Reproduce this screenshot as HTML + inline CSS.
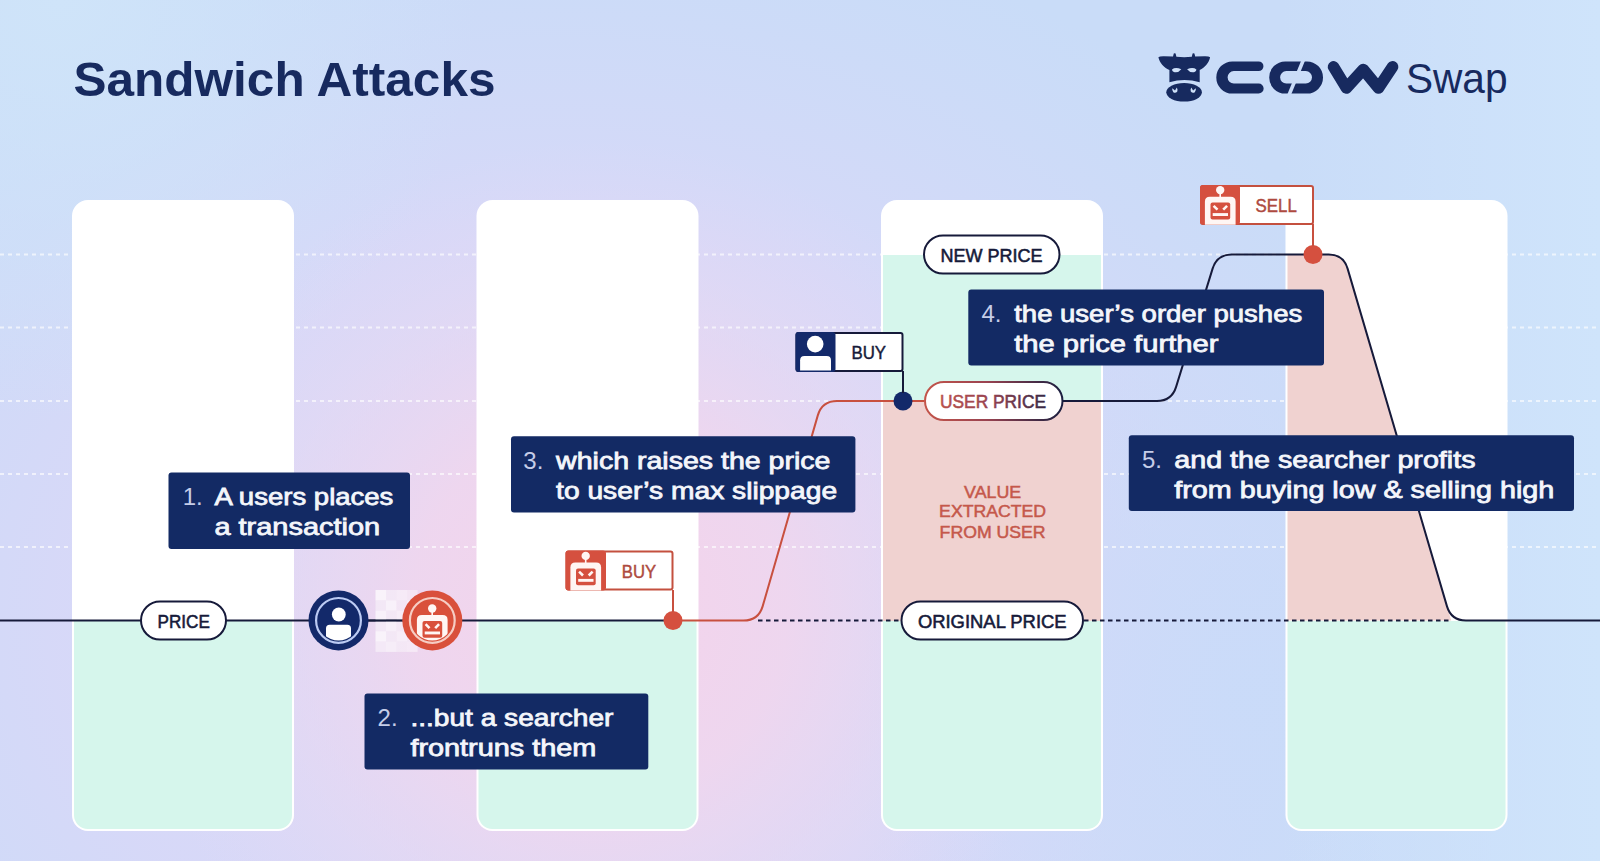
<!DOCTYPE html>
<html>
<head>
<meta charset="utf-8">
<style>
html,body{margin:0;padding:0;width:1600px;height:861px;overflow:hidden;}
body{position:relative;font-family:"Liberation Sans",sans-serif;
background:#cfe0f9;}
svg{position:absolute;left:0;top:0;display:block;}
</style>
</head>
<body>
<svg width="1600" height="861" viewBox="0 0 1600 861" font-family="Liberation Sans, sans-serif">
<defs>
  <radialGradient id="bgLav" cx="560" cy="620" r="760" gradientUnits="userSpaceOnUse" gradientTransform="translate(560 620) scale(1.2 0.95) translate(-560 -620)">
    <stop offset="0" stop-color="#e0d9f6" stop-opacity="1"/>
    <stop offset="0.55" stop-color="#d8d8f8" stop-opacity="0.9"/>
    <stop offset="1" stop-color="#d4d9f8" stop-opacity="0"/>
  </radialGradient>
  <radialGradient id="bgTL" cx="60" cy="0" r="420" gradientUnits="userSpaceOnUse">
    <stop offset="0" stop-color="#cfe4f9" stop-opacity="1"/>
    <stop offset="1" stop-color="#cfe4f9" stop-opacity="0"/>
  </radialGradient>
  <radialGradient id="bgPink" cx="600" cy="610" r="470" gradientUnits="userSpaceOnUse">
    <stop offset="0" stop-color="#f5d3ea" stop-opacity="1"/>
    <stop offset="0.4" stop-color="#f0d6ee" stop-opacity="0.9"/>
    <stop offset="1" stop-color="#e2daf5" stop-opacity="0"/>
  </radialGradient>
  <radialGradient id="bgR" cx="1250" cy="700" r="420" gradientUnits="userSpaceOnUse">
    <stop offset="0" stop-color="#c9dbf9" stop-opacity="0.9"/>
    <stop offset="1" stop-color="#c9dbf9" stop-opacity="0"/>
  </radialGradient>
  <linearGradient id="bgRE" x1="1280" y1="0" x2="1600" y2="0" gradientUnits="userSpaceOnUse">
    <stop offset="0" stop-color="#cfe4fb" stop-opacity="0"/>
    <stop offset="1" stop-color="#cfe4fb" stop-opacity="1"/>
  </linearGradient>
  <linearGradient id="userPriceGrad" x1="924" y1="0" x2="1063" y2="0" gradientUnits="userSpaceOnUse">
    <stop offset="0" stop-color="#c4554a"/>
    <stop offset="0.45" stop-color="#9a4350"/>
    <stop offset="1" stop-color="#1a1f40"/>
  </linearGradient>
  <clipPath id="c1"><rect x="74" y="202" width="218" height="627" rx="14"/></clipPath>
  <clipPath id="c2"><rect x="478.5" y="202" width="218" height="627" rx="14"/></clipPath>
  <clipPath id="c3"><rect x="883" y="202" width="218" height="627" rx="14"/></clipPath>
  <clipPath id="c4"><rect x="1287.5" y="202" width="218" height="627" rx="14"/></clipPath>
  <clipPath id="tagR1"><rect x="565.5" y="550.5" width="40" height="40"/></clipPath>
</defs>

<!-- background -->
<rect x="0" y="0" width="1600" height="861" fill="#c9dcf8"/>
<rect x="0" y="0" width="1600" height="861" fill="url(#bgLav)"/>
<rect x="0" y="0" width="1600" height="861" fill="url(#bgTL)"/>
<rect x="0" y="0" width="1600" height="861" fill="url(#bgR)"/>
<rect x="0" y="0" width="1600" height="861" fill="url(#bgRE)"/>
<rect x="0" y="0" width="1600" height="861" fill="url(#bgPink)"/>

<!-- dashed grid lines -->
<g stroke="#ffffff" stroke-width="2" stroke-dasharray="4 4" opacity="0.65">
  <line x1="0" y1="254.5" x2="1600" y2="254.5"/>
  <line x1="0" y1="327.5" x2="1600" y2="327.5"/>
  <line x1="0" y1="401" x2="1600" y2="401"/>
  <line x1="0" y1="474" x2="1600" y2="474"/>
  <line x1="0" y1="547" x2="1600" y2="547"/>
</g>

<!-- columns -->
<g fill="#ffffff">
  <rect x="72" y="200" width="222" height="631" rx="16"/>
  <rect x="476.5" y="200" width="222" height="631" rx="16"/>
  <rect x="881" y="200" width="222" height="631" rx="16"/>
  <rect x="1285.5" y="200" width="222" height="631" rx="16"/>
</g>
<g fill="#d6f6ec">
  <rect clip-path="url(#c1)" x="72" y="621" width="222" height="220"/>
  <rect clip-path="url(#c2)" x="476.5" y="621" width="222" height="220"/>
  <g clip-path="url(#c3)">
    <rect x="881" y="621" width="222" height="220"/>
    <rect x="881" y="255" width="222" height="146"/>
  </g>
  <rect clip-path="url(#c4)" x="1285.5" y="621" width="222" height="220"/>
</g>
<rect clip-path="url(#c3)" x="881" y="401" width="222" height="220" fill="#f0d2d0"/>
<path clip-path="url(#c4)" d="M1280 254.5 H1328.7 Q1343.4 254.5 1347.6 268.6 L1451.2 620.5 H1280 Z" fill="#f0d2d0"/>

<!-- price line (solid navy) -->
<line x1="0" y1="620.5" x2="673" y2="620.5" stroke="#161a3a" stroke-width="2"/>
<!-- dashed original price -->
<g stroke="#161a3a" stroke-width="2" stroke-dasharray="4.5 3.5">
  <line x1="758" y1="620.5" x2="900" y2="620.5"/>
  <line x1="1084" y1="620.5" x2="1451" y2="620.5"/>
</g>

<!-- red path -->
<path d="M673 620.5 H743.5 Q758.5 620.5 762.7 606.1 L817.8 415.4 Q822 401 837 401 H924" fill="none" stroke="#c8503f" stroke-width="2"/>
<!-- navy path -->
<path d="M1063 401 H1157 Q1171.7 401 1176.1 386.9 L1212.6 268.6 Q1217 254.5 1231.7 254.5 H1328.7 Q1343.4 254.5 1347.6 268.6 L1447 606.4 Q1451.2 620.5 1466 620.5 H1600" fill="none" stroke="#161a3a" stroke-width="2"/>

<!-- pills -->
<g fill="#ffffff" stroke="#161a3a" stroke-width="2">
  <rect x="141" y="601.5" width="85" height="38" rx="19"/>
  <rect x="924" y="235.5" width="135.5" height="38" rx="19"/>
  <rect x="901.5" y="601.5" width="181.5" height="38" rx="19"/>
</g>
<rect x="925" y="382" width="137.5" height="38" rx="19" fill="#ffffff" stroke="url(#userPriceGrad)" stroke-width="2"/>
<g font-size="18" fill="#161a3a" font-weight="normal" stroke="#161a3a" stroke-width="0.55">
  <text x="157.5" y="628" textLength="52.3" lengthAdjust="spacingAndGlyphs">PRICE</text>
  <text x="940.5" y="261.7" textLength="102" lengthAdjust="spacingAndGlyphs">NEW PRICE</text>
  <text x="917.9" y="628.4" textLength="148.7" lengthAdjust="spacingAndGlyphs">ORIGINAL PRICE</text>
  <text x="940" y="408" textLength="106" lengthAdjust="spacingAndGlyphs" fill="url(#userPriceGrad)" stroke="url(#userPriceGrad)">USER PRICE</text>
</g>
<g font-size="17" fill="#c5584b" stroke="#c5584b" stroke-width="0.5" text-anchor="middle">
  <text x="992.6" y="497.5" textLength="57" lengthAdjust="spacingAndGlyphs">VALUE</text>
  <text x="992.6" y="517.4" textLength="107" lengthAdjust="spacingAndGlyphs">EXTRACTED</text>
  <text x="992.6" y="537.7" textLength="106" lengthAdjust="spacingAndGlyphs">FROM USER</text>
</g>

<!-- dots -->
<circle cx="673" cy="620.5" r="9.5" fill="#d5503f"/>
<circle cx="903" cy="401" r="9.5" fill="#13296a"/>
<circle cx="1313" cy="254.5" r="9.5" fill="#d5503f"/>

<!-- tag lines -->
<line x1="673" y1="590" x2="673" y2="612" stroke="#c8503f" stroke-width="2"/>
<line x1="903" y1="371" x2="903" y2="393" stroke="#161a3a" stroke-width="2"/>
<line x1="1313" y1="224" x2="1313" y2="246" stroke="#c8503f" stroke-width="2"/>

<!-- robot BUY tag -->
<g>
  <rect x="566.5" y="551.5" width="106" height="38" rx="2" fill="#ffffff" stroke="#c4503f" stroke-width="2"/>
  <rect x="565.5" y="550.5" width="40.5" height="40" rx="3" fill="#d5503f"/>
  <g transform="translate(566 550.6)">
    <g fill="#fff6f4">
      <circle cx="19.7" cy="5.3" r="4.2"/>
      <rect x="18.9" y="7" width="1.6" height="6"/>
      <path d="M4.4 40 V16.9 Q4.4 11.9 9.4 11.9 H30.1 Q35.1 11.9 35.1 16.9 V40 Z"/>
    </g>
    <rect x="10" y="17.8" width="19.7" height="16.8" rx="2" fill="#d5503f"/>
    <g stroke="#fff6f4" stroke-width="2.6" fill="none">
      <line x1="13.1" y1="21" x2="17" y2="24.9"/>
      <line x1="26.6" y1="21" x2="22.7" y2="24.9"/>
    </g>
    <rect x="12.2" y="28.3" width="15.3" height="2.9" fill="#fff6f4"/>
  </g>
  <text x="621.8" y="577.8" font-size="18" fill="#ae4a40" stroke="#ae4a40" stroke-width="0.45" textLength="34.3" lengthAdjust="spacingAndGlyphs">BUY</text>
</g>

<!-- user BUY tag -->
<g>
  <rect x="796.5" y="333" width="106" height="38" rx="2" fill="#ffffff" stroke="#161a3a" stroke-width="2"/>
  <rect x="795.5" y="332" width="40" height="40" rx="3" fill="#13296a"/>
  <g fill="#ffffff">
    <circle cx="815.2" cy="344.1" r="8.3"/>
    <path d="M800.1 370.4 V360.4 Q800.1 356.1 804.4 356.1 H826.7 Q831 356.1 831 360.4 V370.4 Z"/>
  </g>
  <text x="851.5" y="358.9" font-size="18" fill="#161a3a" stroke="#161a3a" stroke-width="0.45" textLength="34.6" lengthAdjust="spacingAndGlyphs">BUY</text>
</g>

<!-- robot SELL tag -->
<g>
  <rect x="1201" y="186" width="112" height="38" rx="2" fill="#ffffff" stroke="#c4503f" stroke-width="2"/>
  <rect x="1200" y="185" width="40" height="39.5" rx="3" fill="#d5503f"/>
  <g transform="translate(1200.5 184.8)">
    <g fill="#fff6f4">
      <circle cx="19.7" cy="5.3" r="4.2"/>
      <rect x="18.9" y="7" width="1.6" height="6"/>
      <path d="M4.4 40 V16.9 Q4.4 11.9 9.4 11.9 H30.1 Q35.1 11.9 35.1 16.9 V40 Z"/>
    </g>
    <rect x="10" y="17.8" width="19.7" height="16.8" rx="2" fill="#d5503f"/>
    <g stroke="#fff6f4" stroke-width="2.6" fill="none">
      <line x1="13.1" y1="21" x2="17" y2="24.9"/>
      <line x1="26.6" y1="21" x2="22.7" y2="24.9"/>
    </g>
    <rect x="12.2" y="28.3" width="15.3" height="2.9" fill="#fff6f4"/>
  </g>
  <text x="1255.6" y="211.6" font-size="18" fill="#ae4a40" stroke="#ae4a40" stroke-width="0.45" textLength="41.2" lengthAdjust="spacingAndGlyphs">SELL</text>
</g>

<!-- motion blur between icons -->
<g fill="#ffffff" opacity="0.95">
  <rect x="375.5" y="590.0" width="10.6" height="10.4" fill-opacity="0.75"/>
  <rect x="386.0" y="590.0" width="10.6" height="10.4" fill-opacity="0.45"/>
  <rect x="396.5" y="590.0" width="10.6" height="10.4" fill-opacity="0.55"/>
  <rect x="407.0" y="590.0" width="10.6" height="10.4" fill-opacity="0.4"/>
  <rect x="375.5" y="600.3" width="10.6" height="10.4" fill-opacity="0.45"/>
  <rect x="386.0" y="600.3" width="10.6" height="10.4" fill-opacity="0.7"/>
  <rect x="396.5" y="600.3" width="10.6" height="10.4" fill-opacity="0.4"/>
  <rect x="407.0" y="600.3" width="10.6" height="10.4" fill-opacity="0.6"/>
  <rect x="375.5" y="610.6" width="10.6" height="10.4" fill-opacity="0.7"/>
  <rect x="386.0" y="610.6" width="10.6" height="10.4" fill-opacity="0.45"/>
  <rect x="396.5" y="610.6" width="10.6" height="10.4" fill-opacity="0.6"/>
  <rect x="407.0" y="610.6" width="10.6" height="10.4" fill-opacity="0.4"/>
  <rect x="375.5" y="620.9" width="10.6" height="10.4" fill-opacity="0.45"/>
  <rect x="386.0" y="620.9" width="10.6" height="10.4" fill-opacity="0.65"/>
  <rect x="396.5" y="620.9" width="10.6" height="10.4" fill-opacity="0.45"/>
  <rect x="407.0" y="620.9" width="10.6" height="10.4" fill-opacity="0.6"/>
  <rect x="375.5" y="631.2" width="10.6" height="10.4" fill-opacity="0.75"/>
  <rect x="386.0" y="631.2" width="10.6" height="10.4" fill-opacity="0.45"/>
  <rect x="396.5" y="631.2" width="10.6" height="10.4" fill-opacity="0.6"/>
  <rect x="407.0" y="631.2" width="10.6" height="10.4" fill-opacity="0.4"/>
  <rect x="375.5" y="641.5" width="10.6" height="10.4" fill-opacity="0.5"/>
  <rect x="386.0" y="641.5" width="10.6" height="10.4" fill-opacity="0.6"/>
  <rect x="396.5" y="641.5" width="10.6" height="10.4" fill-opacity="0.45"/>
  <rect x="407.0" y="641.5" width="10.6" height="10.4" fill-opacity="0.5"/>
</g>
<line x1="360" y1="620.5" x2="410" y2="620.5" stroke="#161a3a" stroke-width="2"/>

<!-- user circle -->
<g>
  <circle cx="338.5" cy="620.4" r="30" fill="#13296a"/>
  <circle cx="338.5" cy="620.4" r="22.4" fill="none" stroke="#bccbf4" stroke-width="2.2"/>
  <clipPath id="uclip"><circle cx="338.5" cy="620.4" r="20.2"/></clipPath>
  <g fill="#ffffff">
    <circle cx="338.8" cy="614.5" r="6.9"/>
    <path clip-path="url(#uclip)" d="M326 650 V628.5 Q326 624.8 329.7 624.8 H347.3 Q351 624.8 351 628.5 V650 Z"/>
  </g>
</g>
<!-- robot circle -->
<g>
  <circle cx="432.3" cy="620.4" r="30" fill="#d9503b"/>
  <circle cx="432.3" cy="620.4" r="22.4" fill="none" stroke="#f6cdc4" stroke-width="2.2"/>
  <clipPath id="rclip"><circle transform="translate(-412.5 -603.2)" cx="432.3" cy="620.4" r="20.2"/></clipPath>
  <g transform="translate(412.5 603.2)">
    <g fill="#fff6f4">
      <circle cx="19.7" cy="5.3" r="4.2"/>
      <rect x="18.9" y="7" width="1.6" height="6"/>
      <path clip-path="url(#rclip)" d="M4.4 40 V16.9 Q4.4 11.9 9.4 11.9 H30.1 Q35.1 11.9 35.1 16.9 V40 Z"/>
    </g>
    <rect x="10" y="17.8" width="19.7" height="16.8" rx="2" fill="#d9503b"/>
    <g stroke="#fff6f4" stroke-width="2.6" fill="none">
      <line x1="13.1" y1="21" x2="17" y2="24.9"/>
      <line x1="26.6" y1="21" x2="22.7" y2="24.9"/>
    </g>
    <rect x="12.2" y="28.3" width="15.3" height="2.9" fill="#fff6f4"/>
  </g>
</g>

<!-- text boxes -->
<g fill="#132a64">
  <rect x="168.5" y="472.5" width="241.5" height="76.5" rx="3"/>
  <rect x="364.5" y="693.4" width="283.8" height="76.1" rx="3"/>
  <rect x="511" y="436.3" width="344.4" height="76.1" rx="3"/>
  <rect x="968.3" y="289.5" width="355.7" height="76" rx="3"/>
  <rect x="1128.8" y="435.3" width="445.2" height="75.7" rx="3"/>
</g>
<g font-size="24" fill="#c5cde8">
  <text x="182.7" y="504.8">1.</text>
  <text x="377.6" y="725.6">2.</text>
  <text x="523.3" y="468.5">3.</text>
  <text x="981.4" y="321.7">4.</text>
  <text x="1142" y="467.6">5.</text>
</g>
<g font-size="24" font-weight="normal" fill="#f4f6fb" stroke="#f4f6fb" stroke-width="0.8">
  <text x="214.4" y="504.8" textLength="179" lengthAdjust="spacingAndGlyphs">A users places</text>
  <text x="214.4" y="534.9" textLength="165.8" lengthAdjust="spacingAndGlyphs">a transaction</text>
  <text x="410.4" y="725.6" textLength="203" lengthAdjust="spacingAndGlyphs">...but a searcher</text>
  <text x="410.4" y="755.7" textLength="186" lengthAdjust="spacingAndGlyphs">frontruns them</text>
  <text x="556.1" y="468.5" textLength="274.3" lengthAdjust="spacingAndGlyphs">which raises the price</text>
  <text x="556.1" y="498.6" textLength="281" lengthAdjust="spacingAndGlyphs">to user’s max slippage</text>
  <text x="1014.2" y="321.7" textLength="288" lengthAdjust="spacingAndGlyphs">the user’s order pushes</text>
  <text x="1014.2" y="351.8" textLength="204.2" lengthAdjust="spacingAndGlyphs">the price further</text>
  <text x="1174.3" y="467.6" textLength="301.2" lengthAdjust="spacingAndGlyphs">and the searcher profits</text>
  <text x="1174.3" y="497.7" textLength="380" lengthAdjust="spacingAndGlyphs">from buying low &amp; selling high</text>
</g>

<!-- title -->
<text x="73.5" y="96.2" font-size="49" font-weight="bold" fill="#172a5f" textLength="422" lengthAdjust="spacingAndGlyphs">Sandwich Attacks</text>

<!-- logo -->
<g fill="#172a5f">
  <!-- cow head -->
  <path d="M1158.4 57.2 Q1159.5 56.2 1164 56.3 L1173 56.6 L1173.8 53.6 Q1174.6 53 1175.6 53.6 L1176.4 56.8 Q1184.3 57.6 1191.8 56.8 L1192.6 53.6 Q1193.5 53 1194.4 53.6 L1195.2 56.6 L1204.4 56.3 Q1209 56.2 1210.1 57.2 C1209 62.5 1205 67.5 1199.7 70 V82.2 Q1184.5 77.6 1169.4 82.2 V70 C1163.6 67.5 1159.6 62.5 1158.4 57.2 Z"/>
  <ellipse cx="1184.1" cy="92.3" rx="17.8" ry="9.3"/>
</g>
<g fill="#cfe1f9">
  <path d="M1172 69.4 Q1175.5 66.6 1181.3 69.2 Q1178.4 73 1173.8 72 Q1172 71.2 1172 69.4 Z"/>
  <path d="M1196.4 69.4 Q1192.9 66.6 1187.1 69.2 Q1190 73 1194.6 72 Q1196.4 71.2 1196.4 69.4 Z"/>
  <path d="M1172.3 88.2 L1175 90.4 L1176.8 87.6 Q1178 89.5 1177.3 91.5 Q1175.5 93.6 1173.3 92.2 Q1171.8 90.6 1172.3 88.2 Z"/>
  <path d="M1195.8 88.2 L1193.1 90.4 L1191.3 87.6 Q1190.1 89.5 1190.8 91.5 Q1192.6 93.6 1194.8 92.2 Q1196.3 90.6 1195.8 88.2 Z"/>
</g>
<g fill="#172a5f">
  <!-- C -->
  <path d="M1258.6 61.4 H1232.4 A16 16 0 0 0 1232.4 93.6 H1258.6 A5 5 0 0 0 1258.6 83.5 H1233.8 A6.2 6.2 0 0 1 1233.8 71.1 H1258.6 A4.85 4.85 0 0 0 1258.6 61.4 Z"/>
  <!-- O -->
  <path fill-rule="evenodd" d="M1285.3 61.4 H1306.9 A16.1 16.1 0 0 1 1306.9 93.6 H1285.3 A16.1 16.1 0 0 1 1285.3 61.4 Z M1286.3 71.1 H1305.8 A6.2 6.2 0 0 1 1305.8 83.5 H1286.3 A6.2 6.2 0 0 1 1286.3 71.1 Z"/>
</g>
<clipPath id="oclip"><rect x="1260" y="61" width="70" height="33"/></clipPath>
<path clip-path="url(#oclip)" d="M1304.2 58 L1288.2 97" stroke="#cadcf8" stroke-width="3.6"/>
<polyline points="1333.5,66.8 1346.4,88 1363.3,69.5 1378.5,88 1392.6,66.8" fill="none" stroke="#172a5f" stroke-width="11.5" stroke-linecap="round" stroke-linejoin="round"/>
<text x="1405.9" y="92.6" font-size="42.5" fill="#172a5f" textLength="101.6" lengthAdjust="spacingAndGlyphs">Swap</text>

</svg>
</body>
</html>
